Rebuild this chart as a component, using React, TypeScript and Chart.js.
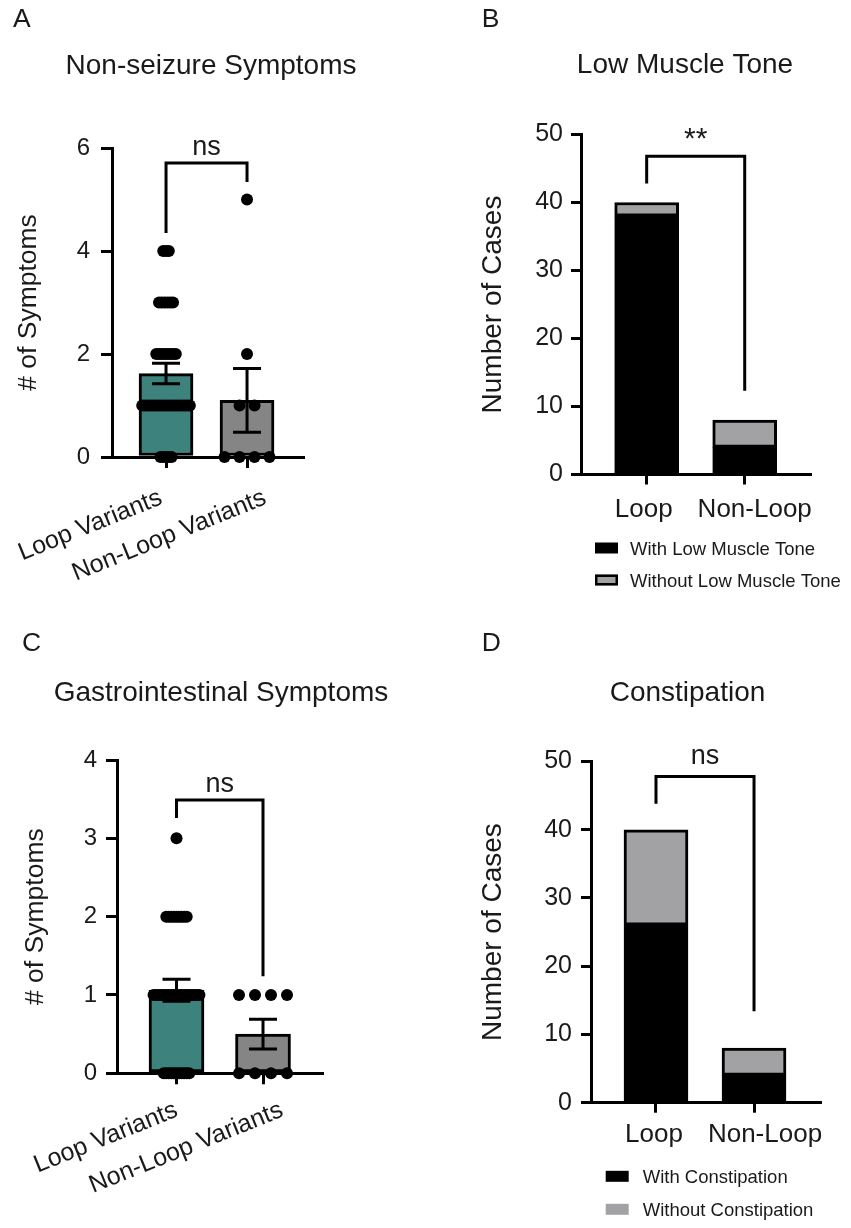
import React, { useEffect, useRef } from 'react';
import { Chart, registerables } from 'chart.js';

Chart.register(...registerables);

const FONT = '"Liberation Sans", Arial, Helvetica, sans-serif';
const INK = '#1a1a1a';
const LINE = '#000000';
const TEAL = '#3e827e';
const MID_GRAY = '#858585';
const LIGHT_GRAY = '#a2a2a5';

// ---------------- data ----------------
const groupLabels = ['Loop Variants', 'Non-Loop Variants'];
const caseLabels = ['Loop', 'Non-Loop'];

// A
const aTitle = 'Non-seizure Symptoms';
const aYTitle = '# of Symptoms';
const aYTicks = [0, 2, 4, 6];
const aMeans = [1.62, 1.1];
const aSems = [0.2, 0.62];
const aLevels = [0, 1, 2, 3, 4, 5];
const aLoopCounts = [5, 18, 8, 6, 3, 0];
const aNonLoopCounts = [4, 2, 1, 0, 0, 1];
const aSig = 'ns';
const aBracket = [5.71, 4.35, 5.34]; // bracket level, left leg end, right leg end

// B
const bTitle = 'Low Muscle Tone';
const bYTitle = 'Number of Cases';
const bYTicks = [0, 10, 20, 30, 40, 50];
const bSeries = ['With Low Muscle Tone', 'Without Low Muscle Tone'];
const bWith = [38, 4];
const bWithout = [2, 4];
const bSig = '**';
const bBracket = [46.8, 42.8, 12.3];

// C
const cTitle = 'Gastrointestinal Symptoms';
const cYTitle = '# of Symptoms';
const cYTicks = [0, 1, 2, 3, 4];
const cMeans = [1.06, 0.5];
const cSems = [0.14, 0.19];
const cLevels = [0, 1, 2, 3];
const cLoopCounts = [11, 19, 9, 1];
const cNonLoopCounts = [4, 4, 0, 0];
const cSig = 'ns';
const cBracket = [3.49, 3.26, 1.24];

// D
const dTitle = 'Constipation';
const dYTitle = 'Number of Cases';
const dYTicks = [0, 10, 20, 30, 40, 50];
const dSeries = ['With Constipation', 'Without Constipation'];
const dWith = [26, 4];
const dWithout = [14, 4];
const dSig = 'ns';
const dBracket = [47.8, 43.8, 13.4];

// ---------------- layout / style ----------------
type Frame = {
  x: number; y: number; w: number; h: number;
  area: [number, number, number, number];
  xRange: [number, number];
  letter: string; letterPos: [number, number];
  title: string; titlePos: [number, number];
  yTitle: string; yTitleSize: number; yTitlePad: number;
  yTicks: number[];
  tickSize: number; tickPad: number; tickLen: number;
  barPx: number;
  sig: string; sigSize: number; sigGap: number;
  bracket: number[];
};

const font = (size: number) => ({ family: FONT, size });

function pointsFor(groupX: number, levels: number[], counts: number[], step: number) {
  const pts: { x: number; y: number }[] = [];
  levels.forEach((v, k) => {
    const n = counts[k];
    for (let i = 0; i < n; i++) pts.push({ x: groupX + (i - (n - 1) / 2) * step, y: v });
  });
  return pts;
}

function drawText(ctx: CanvasRenderingContext2D, s: string, x: number, y: number, size: number,
  align: CanvasTextAlign = 'left', baseline: CanvasTextBaseline = 'alphabetic') {
  ctx.save();
  ctx.font = `${size}px ${FONT}`;
  ctx.fillStyle = INK;
  ctx.textAlign = align;
  ctx.textBaseline = baseline;
  ctx.fillText(s, x, y);
  ctx.restore();
}

function commonScales(f: Frame, stacked: boolean) {
  const gridBase = {
    drawOnChartArea: false, drawTicks: true, tickLength: f.tickLen, tickWidth: 3,
    tickColor: LINE, color: LINE, lineWidth: 3, offset: false,
  };
  return {
    y: {
      type: 'linear',
      stacked,
      min: f.yTicks[0],
      max: f.yTicks[f.yTicks.length - 1],
      afterBuildTicks: (s: any) => { s.ticks = f.yTicks.map((v) => ({ value: v })); },
      afterFit: (s: any) => { s.width = f.area[0]; },
      grid: gridBase,
      border: { display: true, color: LINE, width: 3 },
      ticks: { font: font(f.tickSize), color: INK, padding: f.tickPad },
      title: {
        display: true, text: f.yTitle, color: INK, font: font(f.yTitleSize),
        padding: { top: f.yTitlePad, bottom: 0 },
      },
    },
    x: {
      type: 'linear',
      stacked,
      offset: false,
      min: f.xRange[0],
      max: f.xRange[1],
      afterBuildTicks: (s: any) => { s.ticks = [{ value: 0 }, { value: 1 }]; },
      afterFit: (s: any) => { s.height = f.h - f.area[3]; },
      grid: gridBase,
      border: { display: true, color: LINE, width: 3 },
      // category names are drawn by the annotation plugin at the tick positions
      ticks: { display: false, maxRotation: 0, minRotation: 0 },
    },
  };
}

function drawFrameText(chart: any, f: Frame) {
  const ctx: CanvasRenderingContext2D = chart.ctx;
  const xs = chart.scales.x;
  const ys = chart.scales.y;
  drawText(ctx, f.letter, f.letterPos[0], f.letterPos[1], 26.5);
  drawText(ctx, f.title, f.titlePos[0], f.titlePos[1], 28, 'center');
  // significance bracket
  const [lvl, l1, l2] = f.bracket;
  const x1 = xs.getPixelForValue(0);
  const x2 = xs.getPixelForValue(1);
  const yb = ys.getPixelForValue(lvl);
  ctx.save();
  ctx.strokeStyle = LINE;
  ctx.lineWidth = 3;
  ctx.lineJoin = 'miter';
  ctx.beginPath();
  ctx.moveTo(x1, ys.getPixelForValue(l1));
  ctx.lineTo(x1, yb);
  ctx.lineTo(x2, yb);
  ctx.lineTo(x2, ys.getPixelForValue(l2));
  ctx.stroke();
  ctx.restore();
  drawText(ctx, f.sig, (x1 + x2) / 2, yb - f.sigGap, f.sigSize, 'center');
}

// ---- dot + bar panels (A, C) ----
type DotOpts = {
  means: number[]; sems: number[]; levels: number[]; counts: number[][];
  dotPx: number[]; capPx: number; labelSize: number; labelAngle: number;
  labelShift: number[]; labelDy: number;
};

function dotConfig(f: Frame, o: DotOpts): any {
  const sc = commonScales(f, false);
  const ppu = (f.area[2] - f.area[0]) / (f.xRange[1] - f.xRange[0]);
  const pts = [
    ...pointsFor(0, o.levels, o.counts[0], o.dotPx[0] / ppu),
    ...pointsFor(1, o.levels, o.counts[1], o.dotPx[1] / ppu),
  ];
  const plugin = {
    id: 'annot' + f.letter,
    afterDatasetDraw(chart: any, args: any) {
      if (chart.getDatasetMeta(args.index).type !== 'bar') return;
      const ctx: CanvasRenderingContext2D = chart.ctx;
      const xs = chart.scales.x;
      const ys = chart.scales.y;
      ctx.save();
      ctx.strokeStyle = LINE;
      ctx.lineWidth = 3;
      o.means.forEach((m, i) => {
        const px = xs.getPixelForValue(i);
        const hi = ys.getPixelForValue(m + o.sems[i]);
        const lo = ys.getPixelForValue(m - o.sems[i]);
        ctx.beginPath();
        ctx.moveTo(px, hi); ctx.lineTo(px, lo);
        ctx.moveTo(px - o.capPx / 2, hi); ctx.lineTo(px + o.capPx / 2, hi);
        ctx.moveTo(px - o.capPx / 2, lo); ctx.lineTo(px + o.capPx / 2, lo);
        ctx.stroke();
      });
      ctx.restore();
    },
    afterDraw(chart: any) {
      drawFrameText(chart, f);
      const ctx: CanvasRenderingContext2D = chart.ctx;
      const xs = chart.scales.x;
      groupLabels.forEach((t, i) => {
        const px = xs.getPixelForValue(i) + o.labelShift[i];
        const py = chart.chartArea.bottom + o.labelDy;
        ctx.save();
        ctx.translate(px, py);
        ctx.rotate((-o.labelAngle * Math.PI) / 180);
        ctx.font = `${o.labelSize}px ${FONT}`;
        ctx.fillStyle = INK;
        ctx.textAlign = 'right';
        ctx.textBaseline = 'middle';
        ctx.fillText(t, 0, 0);
        ctx.restore();
      });
    },
  };
  return {
    type: 'bar',
    data: {
      datasets: [
        {
          type: 'scatter',
          data: pts,
          pointRadius: 6,
          pointBorderWidth: 0,
          pointBackgroundColor: LINE,
          backgroundColor: LINE,
          clip: false,
        },
        {
          type: 'bar',
          data: o.means.map((m, i) => ({ x: i, y: m })),
          backgroundColor: [TEAL, MID_GRAY],
          borderColor: LINE,
          borderWidth: 3,
          borderSkipped: false,
          barThickness: f.barPx,
        },
      ],
    },
    options: {
      responsive: false,
      animation: false,
      events: [],
      layout: { padding: { left: 0, top: f.area[1], right: f.w - f.area[2], bottom: 0 } },
      plugins: { legend: { display: false }, title: { display: false }, tooltip: { enabled: false } },
      scales: { x: sc.x, y: sc.y },
    },
    plugins: [plugin],
  };
}

// ---- stacked panels (B, D) ----
type StackOpts = {
  withVals: number[]; withoutVals: number[]; series: string[];
  catSize: number; catShift: number[]; catDy: number;
  legendBoxX: number; legendRows: number[]; legendTextX: number; legendSize: number;
  legendBorder: boolean[];
};

function stackConfig(f: Frame, o: StackOpts): any {
  const sc = commonScales(f, true);
  const colors = [LINE, LIGHT_GRAY];
  const plugin = {
    id: 'annot' + f.letter,
    afterDraw(chart: any) {
      drawFrameText(chart, f);
      const ctx: CanvasRenderingContext2D = chart.ctx;
      const xs = chart.scales.x;
      caseLabels.forEach((t, i) => {
        drawText(ctx, t, xs.getPixelForValue(i) + o.catShift[i], chart.chartArea.bottom + o.catDy,
          o.catSize, 'center', 'middle');
      });
      o.series.forEach((name, k) => {
        const yc = o.legendRows[k];
        ctx.save();
        ctx.fillStyle = colors[k];
        ctx.fillRect(o.legendBoxX, yc - 5.5, 23, 11);
        if (o.legendBorder[k]) {
          ctx.strokeStyle = LINE;
          ctx.lineWidth = 2.5;
          ctx.strokeRect(o.legendBoxX + 1.25, yc - 4.25, 20.5, 8.5);
        }
        ctx.restore();
        drawText(ctx, name, o.legendTextX, yc + 0.358 * o.legendSize, o.legendSize);
      });
    },
  };
  return {
    type: 'bar',
    data: {
      datasets: [
        {
          label: o.series[0],
          data: o.withVals.map((v, i) => ({ x: i, y: v })),
          backgroundColor: colors[0],
          borderColor: LINE,
          borderWidth: 3,
          borderSkipped: false,
          barThickness: f.barPx,
        },
        {
          label: o.series[1],
          data: o.withoutVals.map((v, i) => ({ x: i, y: v })),
          backgroundColor: colors[1],
          borderColor: LINE,
          borderWidth: 3,
          borderSkipped: false,
          barThickness: f.barPx,
        },
      ],
    },
    options: {
      responsive: false,
      animation: false,
      events: [],
      layout: { padding: { left: 0, top: f.area[1], right: f.w - f.area[2], bottom: 0 } },
      plugins: { legend: { display: false }, title: { display: false }, tooltip: { enabled: false } },
      scales: { x: sc.x, y: sc.y },
    },
    plugins: [plugin],
  };
}

// ---------------- frames ----------------
const frameA: Frame = {
  x: 0, y: 0, w: 425, h: 614, area: [112, 148, 303, 457], xRange: [-0.667, 1.691],
  letter: 'A', letterPos: [13, 26.8], title: aTitle, titlePos: [211, 73.5],
  yTitle: aYTitle, yTitleSize: 26.5, yTitlePad: 13, yTicks: aYTicks,
  tickSize: 24, tickPad: 11, tickLen: 11, barPx: 54,
  sig: aSig, sigSize: 27, sigGap: 8, bracket: aBracket,
};
const frameB: Frame = {
  x: 425, y: 0, w: 426, h: 614, area: [156, 134.5, 385, 474.5], xRange: [-0.67, 1.666],
  letter: 'B', letterPos: [56.7, 26.8], title: bTitle, titlePos: [260, 73.3],
  yTitle: bYTitle, yTitleSize: 28, yTitlePad: 51, yTicks: bYTicks,
  tickSize: 25, tickPad: 8, tickLen: 10, barPx: 64,
  sig: bSig, sigSize: 30, sigGap: 8.5, bracket: bBracket,
};
const frameC: Frame = {
  x: 0, y: 614, w: 425, h: 614, area: [117, 146, 322, 459.3], xRange: [-0.688, 1.682],
  letter: 'C', letterPos: [22, 37], title: cTitle, titlePos: [221, 87.4],
  yTitle: cYTitle, yTitleSize: 26.5, yTitlePad: 19.6, yTicks: cYTicks,
  tickSize: 24, tickPad: 9, tickLen: 11, barPx: 55,
  sig: cSig, sigSize: 27, sigGap: 8.3, bracket: cBracket,
};
const frameD: Frame = {
  x: 425, y: 614, w: 426, h: 614, area: [166, 147.5, 395, 488.7], xRange: [-0.663, 1.673],
  letter: 'D', letterPos: [56.7, 37], title: dTitle, titlePos: [262.5, 87.4],
  yTitle: dYTitle, yTitleSize: 28, yTitlePad: 51.5, yTicks: dYTicks,
  tickSize: 25, tickPad: 9, tickLen: 10, barPx: 64,
  sig: dSig, sigSize: 27, sigGap: 13, bracket: dBracket,
};

function Panel({ frame, build }: { frame: Frame; build: () => any }) {
  const ref = useRef<HTMLCanvasElement>(null);
  useEffect(() => {
    if (!ref.current) return;
    const chart = new Chart(ref.current, build());
    return () => chart.destroy();
  }, []);
  return (
    <canvas
      ref={ref}
      width={frame.w}
      height={frame.h}
      style={{ position: 'absolute', left: frame.x, top: frame.y, width: frame.w, height: frame.h, display: 'block' }}
    />
  );
}

export default function App() {
  return (
    <div style={{ position: 'absolute', left: 0, top: 0, width: 851, height: 1228, background: '#ffffff', overflow: 'hidden' }}>
      <Panel
        frame={frameA}
        build={() => dotConfig(frameA, {
          means: aMeans, sems: aSems, levels: aLevels, counts: [aLoopCounts, aNonLoopCounts],
          dotPx: [2.8, 15], capPx: 28, labelSize: 25, labelAngle: 22, labelShift: [-5, 18], labelDy: 40,
        })}
      />
      <Panel
        frame={frameB}
        build={() => stackConfig(frameB, {
          withVals: bWith, withoutVals: bWithout, series: bSeries, catSize: 26,
          catShift: [-3, 10], catDy: 35.5,
          legendBoxX: 170, legendRows: [548, 580], legendTextX: 205, legendSize: 18.5,
          legendBorder: [false, true],
        })}
      />
      <Panel
        frame={frameC}
        build={() => dotConfig(frameC, {
          means: cMeans, sems: cSems, levels: cLevels, counts: [cLoopCounts, cNonLoopCounts],
          dotPx: [2.55, 16], capPx: 28, labelSize: 25, labelAngle: 22, labelShift: [0, 19], labelDy: 36,
        })}
      />
      <Panel
        frame={frameD}
        build={() => stackConfig(frameD, {
          withVals: dWith, withoutVals: dWithout, series: dSeries, catSize: 26,
          catShift: [-2, 11], catDy: 32,
          legendBoxX: 180.7, legendRows: [562.3, 595.3], legendTextX: 217.7, legendSize: 18.5,
          legendBorder: [false, false],
        })}
      />
    </div>
  );
}
